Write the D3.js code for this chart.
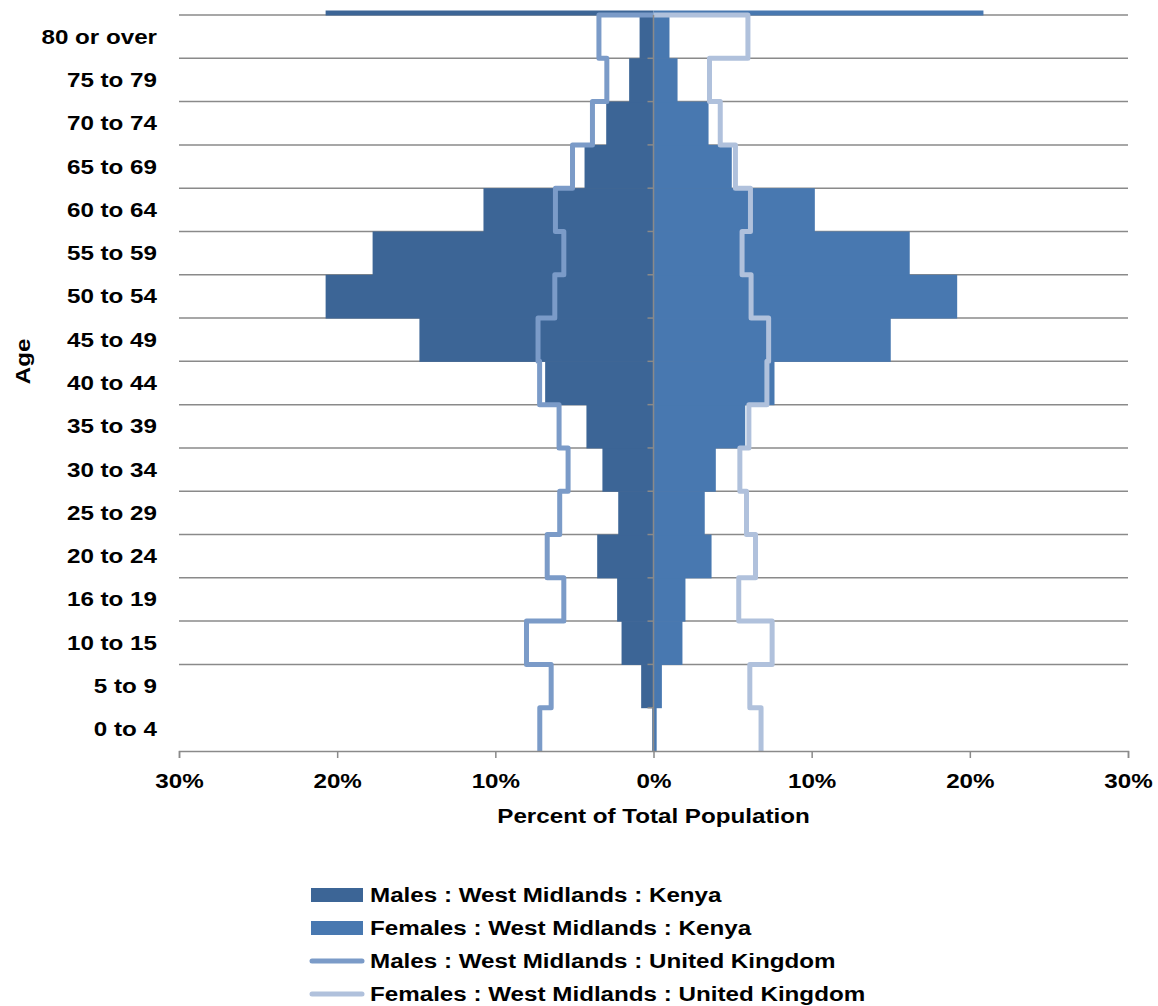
<!DOCTYPE html>
<html>
<head>
<meta charset="utf-8">
<script src="https://cdn.jsdelivr.net/npm/d3@7"></script>
<style>
  body { margin: 0; background: #fff; }
  text { font-family: "Liberation Sans", Arial, sans-serif; font-weight: bold; fill: #000; }
</style>
</head>
<body>
<div id="chart"></div>
<script>
const width = 1158;
const height = 1006;

// age bands, bottom to top
const ages = ["0 to 4", "5 to 9", "10 to 15", "16 to 19", "20 to 24", "25 to 29", "30 to 34",
  "35 to 39", "40 to 44", "45 to 49", "50 to 54", "55 to 59", "60 to 64", "65 to 69",
  "70 to 74", "75 to 79", "80 or over"];
// percent of total population
const kenyaMales = [0.08, 0.78, 2.02, 2.3, 3.56, 2.23, 3.23, 4.24, 6.85, 14.8, 20.73, 17.76, 10.75, 4.36, 2.99, 1.54, 0.88];
const kenyaFemales = [0.2, 0.53, 1.83, 2.02, 3.67, 3.24, 3.94, 5.8, 7.65, 15.0, 19.2, 16.2, 10.2, 4.95, 3.48, 1.52, 1.01];
const ukMales = [7.19, 6.47, 8.03, 5.67, 6.72, 5.93, 5.4, 5.97, 7.2, 7.3, 6.24, 5.67, 6.2, 5.12, 3.86, 2.95, 3.45];
const ukFemales = [6.8, 6.09, 7.5, 5.39, 6.45, 5.88, 5.46, 6.03, 7.17, 7.28, 6.17, 5.6, 6.13, 5.18, 4.22, 3.54, 5.97];
// band above the chart that is cut off at the top edge
const cutBand = { male: 20.73, female: 20.86 };
const xTicks = [-30, -20, -10, 0, 10, 20, 30];
const legendKeys = ["Males : West Midlands : Kenya", "Females : West Midlands : Kenya",
  "Males : West Midlands : United Kingdom", "Females : West Midlands : United Kingdom"];

const colMaleBar = "#3c6596";
const colFemaleBar = "#4878b0";
const colMaleUK = "#7b9bc8";
const colFemaleUK = "#b0c1dc";
const gridCol = "#8a8a8a";
const fontSize = "20.5px";
const stretch = 1.18; // labels in the picture are drawn wide

const plotLeft = 179, plotRight = 1128, plotTop = 15, plotBottom = 751;
const step = (plotBottom - plotTop) / ages.length;

const svg = d3.select("#chart").append("svg")
  .attr("width", width).attr("height", height);

const x = d3.scaleLinear().domain([-30, 30]).range([plotLeft, plotRight]);
const y = d3.scaleBand().domain([...ages, "cut"]).range([plotBottom, plotTop - step]).padding(0);

svg.append("clipPath").attr("id", "plotclip")
  .append("rect").attr("x", 0).attr("y", plotTop - 4.5)
  .attr("width", width).attr("height", plotBottom - plotTop + 4.5);

// gridlines at the top edge of every band
svg.append("g").selectAll("line")
  .data(ages.slice(1))
  .enter().append("line")
  .attr("x1", plotLeft).attr("x2", plotRight)
  .attr("y1", d => y(d)).attr("y2", d => y(d))
  .style("stroke", gridCol).style("stroke-width", 1.5);

const bars = svg.append("g").attr("clip-path", "url(#plotclip)");

bars.selectAll(".male")
  .data(ages.map((a, i) => ({ age: a, v: kenyaMales[i] })).concat([{ age: "cut", v: cutBand.male }]))
  .enter().append("rect")
  .attr("x", d => x(-d.v)).attr("width", d => x(0) - x(-d.v))
  .attr("y", d => y(d.age)).attr("height", y.bandwidth() + 0.5)
  .style("fill", colMaleBar);

bars.selectAll(".female")
  .data(ages.map((a, i) => ({ age: a, v: kenyaFemales[i] })).concat([{ age: "cut", v: cutBand.female }]))
  .enter().append("rect")
  .attr("x", x(0)).attr("width", d => x(d.v) - x(0))
  .attr("y", d => y(d.age)).attr("height", y.bandwidth() + 0.5)
  .style("fill", colFemaleBar);

// UK step lines
function stepPoints(vals, sign) {
  const pts = [];
  vals.forEach((v, i) => {
    pts.push([x(sign * v), y(ages[i]) + y.bandwidth()]);
    pts.push([x(sign * v), y(ages[i])]);
  });
  pts.push([x(0), y(ages[ages.length - 1])]);
  return pts;
}
const line = d3.line();
svg.append("path").attr("d", line(stepPoints(ukMales, -1)))
  .style("fill", "none").style("stroke", colMaleUK).style("stroke-width", 5)
  .style("stroke-linejoin", "round");
svg.append("path").attr("d", line(stepPoints(ukFemales, 1)))
  .style("fill", "none").style("stroke", colFemaleUK).style("stroke-width", 5)
  .style("stroke-linejoin", "round");

// centre axis with ticks at band edges
const centre = svg.append("g");
centre.append("line")
  .attr("x1", x(0)).attr("x2", x(0)).attr("y1", plotTop).attr("y2", plotBottom)
  .style("stroke", gridCol).style("stroke-width", 1.5);
centre.selectAll(".tk").data(ages.slice(1))
  .enter().append("line")
  .attr("x1", x(0) - 6).attr("x2", x(0))
  .attr("y1", d => y(d) + y.bandwidth()).attr("y2", d => y(d) + y.bandwidth())
  .style("stroke", gridCol).style("stroke-width", 1.5);

// bottom axis
const xAxis = d3.axisBottom(x).tickValues(xTicks).tickSize(7).tickFormat(d => Math.abs(d) + "%");
const gx = svg.append("g").attr("transform", "translate(0," + plotBottom + ")").call(xAxis);
gx.select(".domain").style("stroke", gridCol).style("stroke-width", 1.5);
gx.selectAll(".tick line").style("stroke", gridCol).style("stroke-width", 1.5);
gx.selectAll(".tick text")
  .attr("y", 0).attr("dy", 0)
  .attr("transform", "translate(0,37) scale(" + stretch + ",1)")
  .style("font-size", fontSize).style("font-family", "Liberation Sans, Arial, sans-serif")
  .style("font-weight", "bold").style("fill", "#000");

// category labels
svg.append("g").selectAll("text").data(ages)
  .enter().append("text")
  .attr("text-anchor", "end")
  .attr("transform", d => "translate(157," + (y(d) + y.bandwidth() / 2 + 7) + ") scale(" + stretch + ",1)")
  .style("font-size", fontSize)
  .text(d => d);

// axis titles
svg.append("text")
  .attr("text-anchor", "middle")
  .attr("transform", "translate(" + x(0) + ",823) scale(" + stretch + ",1)")
  .style("font-size", fontSize)
  .text("Percent of Total Population");

svg.append("text")
  .attr("text-anchor", "middle")
  .attr("transform", "translate(30," + (y("45 to 49") + y.bandwidth()) + ") rotate(-90) scale(" + stretch + ",1)")
  .style("font-size", fontSize)
  .text("Age");

// legend
const legend = svg.append("g").selectAll("g").data(legendKeys)
  .enter().append("g")
  .attr("transform", (d, i) => "translate(311," + (895 + i * 33) + ")");

legend.filter((d, i) => i < 2).append("rect")
  .attr("x", 0).attr("y", -7).attr("width", 52).attr("height", 14)
  .style("fill", (d, i) => i === 0 ? colMaleBar : colFemaleBar);

legend.filter((d, i) => i >= 2).append("line")
  .attr("x1", 1).attr("x2", 51).attr("y1", 0).attr("y2", 0)
  .style("stroke", d => d.startsWith("Males") ? colMaleUK : colFemaleUK)
  .style("stroke-width", 5).style("stroke-linecap", "round");

legend.append("text")
  .attr("transform", "translate(59,7) scale(" + stretch + ",1)")
  .style("font-size", fontSize)
  .text(d => d);
</script>
</body>
</html>
